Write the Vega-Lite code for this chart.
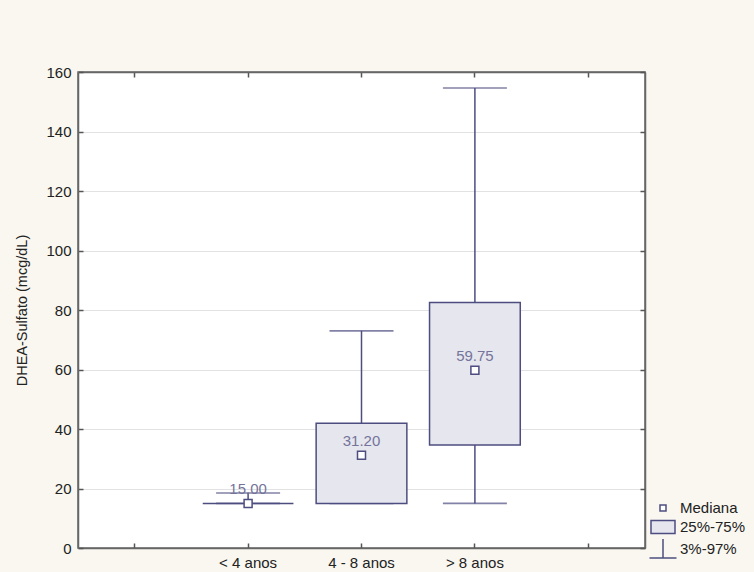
{
  "$schema": "https://vega.github.io/schema/vega-lite/v6.json",
  "width": 567,
  "height": 476,
  "autosize": {"type": "none"},
  "padding": {"left": 78, "top": 72, "right": 109, "bottom": 24},
  "background": "#f9f7f0",
  "config": {
    "view": {"fill": "white", "stroke": "#666666", "strokeWidth": 1.5},
    "font": "Liberation Sans",
    "axis": {"domainColor": "#666666", "domainWidth": 1.5, "tickColor": "#555555", "tickWidth": 1.5, "tickSize": -5, "labelFont": "Liberation Sans", "labelFontSize": 15, "labelColor": "#222222", "titleFont": "Liberation Sans", "titleFontSize": 14.5, "titleFontWeight": "normal", "titleColor": "#222222"}
  },
  "data": {
    "values": [
      {"cat": "< 4 anos", "lo": 15, "hi": 18.5, "q1": 15, "q3": 15, "med": 15, "legend": "Mediana"},
      {"cat": "4 - 8 anos", "lo": 15, "hi": 73, "q1": 15, "q3": 41.9, "med": 31.2, "legend": "Mediana"},
      {"cat": "> 8 anos", "lo": 15, "hi": 154.6, "q1": 34.6, "q3": 82.5, "med": 59.75, "legend": "Mediana"}
    ]
  },
  "resolve": {"axis": {"x": "independent", "y": "independent"}},
  "layer": [
    {
      "mark": {"type": "rule", "stroke": "#4d4d80", "strokeWidth": 1.5},
      "encoding": {
        "x": {"field": "cat", "type": "nominal", "sort": null,
          "scale": {"domain": ["L", "< 4 anos", "4 - 8 anos", "> 8 anos", "R"], "paddingInner": 0, "paddingOuter": 0},
          "axis": {"orient": "bottom", "title": null, "labelAngle": 0, "labelPadding": 12, "grid": false,
            "labelExpr": "datum.value == 'L' || datum.value == 'R' ? '' : datum.value"}},
        "y": {"field": "lo", "type": "quantitative",
          "scale": {"domain": [0, 160], "nice": false, "zero": false},
          "axis": {"orient": "left", "title": "DHEA-Sulfato (mcg/dL)", "values": [0, 20, 40, 60, 80, 100, 120, 140, 160], "grid": true, "gridColor": "#e2e2e2", "gridWidth": 1, "labelPadding": 12, "titlePadding": 16}},
        "y2": {"field": "hi"}
      }
    },
    {
      "mark": {"type": "tick", "color": "#4d4d80", "size": 64, "thickness": 1.6},
      "encoding": {
        "x": {"field": "cat", "type": "nominal", "sort": null,
          "axis": {"orient": "top", "title": null, "labels": false, "grid": false}},
        "y": {"field": "hi", "type": "quantitative",
          "axis": {"orient": "right", "title": null, "labels": false, "grid": false, "values": [0, 20, 40, 60, 80, 100, 120, 140, 160]}}
      }
    },
    {
      "mark": {"type": "tick", "color": "#4d4d80", "size": 64, "thickness": 1.6},
      "encoding": {
        "x": {"field": "cat", "type": "nominal", "sort": null, "axis": null},
        "y": {"field": "lo", "type": "quantitative", "axis": null}
      }
    },
    {
      "mark": {"type": "bar", "fill": "#e6e6ef", "stroke": "#4d4d80", "strokeWidth": 1.5, "width": {"band": 0.8}},
      "encoding": {
        "x": {"field": "cat", "type": "nominal", "sort": null, "axis": null},
        "y": {"field": "q1", "type": "quantitative", "axis": null},
        "y2": {"field": "q3"}
      }
    },
    {
      "mark": {"type": "text", "dy": -14, "fontSize": 15, "fill": "#74749a", "font": "Liberation Sans"},
      "encoding": {
        "x": {"field": "cat", "type": "nominal", "sort": null, "axis": null},
        "y": {"field": "med", "type": "quantitative", "axis": null},
        "text": {"field": "med", "type": "quantitative", "format": ".2f"}
      }
    },
    {
      "mark": {"type": "point", "filled": true, "stroke": "#4d4d80", "strokeWidth": 1.5, "size": 711, "opacity": 1},
      "encoding": {
        "x": {"field": "cat", "type": "nominal", "sort": null, "axis": null},
        "y": {"field": "med", "type": "quantitative", "axis": null},
        "color": {"field": "legend", "type": "nominal",
          "scale": {"domain": ["Mediana", "25%-75%", "3%-97%"], "range": ["white", "#e6e6ef", "white"]},
          "legend": {"title": null, "orient": "none", "legendX": 574, "legendY": 425, "symbolSize": 400, "symbolStrokeColor": "#4d4d80", "symbolStrokeWidth": 1.5, "labelFontSize": 15, "labelColor": "#222222", "labelFont": "Liberation Sans", "labelOffset": 6, "rowPadding": -1, "symbolOpacity": 1}},
        "shape": {"field": "legend", "type": "nominal",
          "scale": {"domain": ["Mediana", "25%-75%", "3%-97%"], "range": ["M-0.3,-0.3H0.3V0.3H-0.3Z", "M-1.2,-0.65H1.2V0.65H-1.2Z", "M0,-1V0.9M-1.35,0.9H1.35"]}}
      }
    }
  ]
}
